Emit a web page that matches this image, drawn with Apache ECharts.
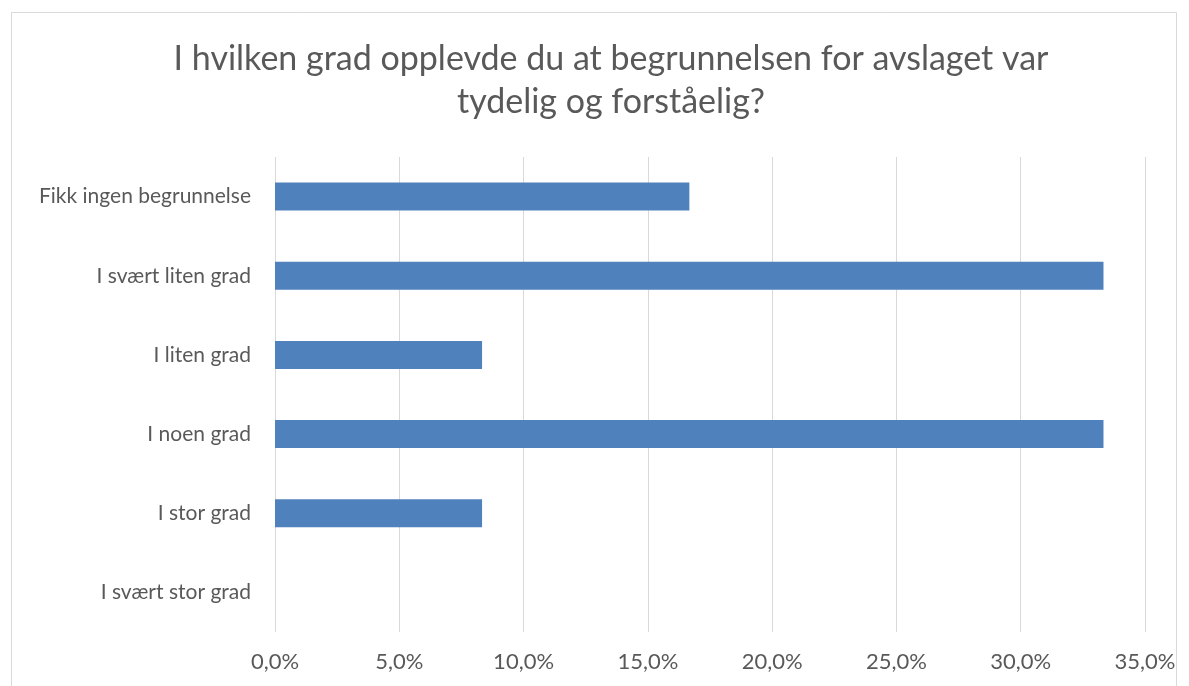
<!DOCTYPE html>
<html>
<head>
<meta charset="utf-8">
<script src="https://cdn.jsdelivr.net/npm/echarts@6/dist/echarts.min.js"></script>
<style>
  html, body { margin: 0; padding: 0; background: #fff; }
  #chart { width: 1189px; height: 686px; }
</style>
</head>
<body>
<div id="chart"></div>
<script>
// survey answers, top to bottom
const categories = ['Fikk ingen begrunnelse', 'I svært liten grad', 'I liten grad', 'I noen grad', 'I stor grad', 'I svært stor grad']
const shares = [16.67, 33.33, 8.33, 33.33, 8.33, 0]
const titleText = 'I hvilken grad opplevde du at begrunnelsen for avslaget var\ntydelig og forståelig?'

const chart = echarts.init(document.getElementById('chart'))
const option = {
  animation: false,
  backgroundColor: '#fff',
  textStyle: { fontFamily: 'Lato, "Open Sans", sans-serif' },
  title: {
    text: titleText,
    left: 606,
    textAlign: 'center',
    top: 33,
    textStyle: {
      fontSize: 34,
      fontWeight: 'normal',
      color: '#595959',
      lineHeight: 43
    }
  },
  graphic: [{
    type: 'rect',
    shape: { x: 11.5, y: 12.5, width: 1165, height: 700 },
    style: { fill: 'none', stroke: '#d9d9d9', lineWidth: 1 },
    silent: true
  }],
  grid: {
    left: 275,
    right: 44,
    top: 157,
    bottom: 54,
    outerBoundsMode: 'none'
  },
  xAxis: {
    type: 'value',
    min: 0,
    max: 35,
    interval: 5,
    axisLine: { show: false },
    axisTick: { show: false },
    splitLine: { lineStyle: { color: '#d9d9d9', width: 1 } },
    axisLabel: {
      color: '#595959',
      fontSize: 22,
      margin: 19,
      formatter: v => v.toFixed(1).replace('.', ',') + '%'
    }
  },
  yAxis: {
    type: 'category',
    inverse: true,
    data: categories,
    axisLine: { show: false },
    axisTick: { show: false },
    axisLabel: { color: '#595959', fontSize: 21, margin: 24 }
  },
  series: [{
    type: 'bar',
    data: shares,
    barWidth: 28,
    itemStyle: { color: '#4f81bd' }
  }]
}
chart.setOption(option)
window.addEventListener('resize', () => chart.resize())
</script>
</body>
</html>
